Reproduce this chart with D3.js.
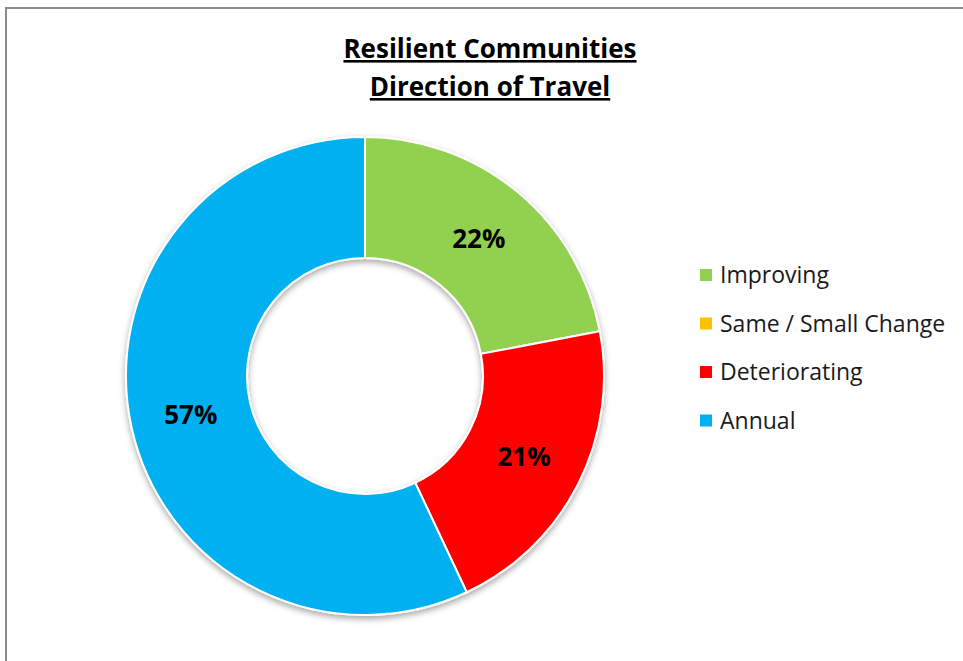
<!DOCTYPE html>
<html lang="en">
<head>
    <meta charset="UTF-8">
    <title>Resilient Communities Direction of Travel</title>
    <script src="https://d3js.org/d3.v7.min.js"></script>
    <style>
        body {
            margin: 0;
            padding: 0;
            background-color: #ffffff;
            font-family: "Open Sans", "Noto Sans", sans-serif;
        }

        .title {
            font-size: 26px;
            font-weight: bold;
            text-anchor: middle;
            text-decoration: underline;
        }

        .slice-label {
            font-size: 26px;
            font-weight: bold;
            text-anchor: middle;
        }

        .legend-text {
            font-size: 23px;
            fill: #1a1a1a;
        }
    </style>
</head>
<body>
    <div id="chart"></div>
    <script>
        // Chart data
        const categories = ["Improving", "Same / Small Change", "Deteriorating", "Annual"];
        const values = [22, 0, 21, 57];
        const colors = ["#92D050", "#FFC000", "#FF0000", "#00B0F0"];
        const titleLines = ["Resilient Communities", "Direction of Travel"];

        const width = 963;
        const height = 661;
        const cx = 365, cy = 376;
        const outerR = 239, innerR = 118;

        const svg = d3.select("#chart")
            .append("svg")
            .attr("width", width)
            .attr("height", height);

        // Frame
        svg.append("rect")
            .attr("x", 6)
            .attr("y", 8)
            .attr("width", width + 10)
            .attr("height", height + 10)
            .attr("fill", "none")
            .attr("stroke", "#8c8c8c")
            .attr("stroke-width", 2);

        // Shadow filter
        const defs = svg.append("defs");
        const filter = defs.append("filter").attr("id", "shadow")
            .attr("x", "-20%").attr("y", "-20%").attr("width", "140%").attr("height", "140%");
        filter.append("feDropShadow")
            .attr("dx", 0).attr("dy", 3).attr("stdDeviation", 3)
            .attr("flood-color", "#000").attr("flood-opacity", 0.35);

        // Title
        svg.selectAll("text.title")
            .data(titleLines)
            .enter()
            .append("text")
            .attr("class", "title")
            .attr("x", 490)
            .attr("y", (d, i) => 58 + i * 38)
            .text(d => d);

        const data = categories.map((c, i) => ({ name: c, value: values[i], color: colors[i] }));

        const pie = d3.pie().value(d => d.value).sort(null);
        const arc = d3.arc().innerRadius(innerR).outerRadius(outerR);

        const g = svg.append("g").attr("transform", `translate(${cx},${cy})`);

        g.append("g")
            .attr("filter", "url(#shadow)")
            .selectAll("path")
            .data(pie(data).filter(d => d.data.value > 0))
            .enter()
            .append("path")
            .attr("d", arc)
            .attr("fill", d => d.data.color)
            .attr("stroke", "#ffffff")
            .attr("stroke-width", 2);

        g.selectAll("text.slice-label")
            .data(pie(data).filter(d => d.data.value > 0))
            .enter()
            .append("text")
            .attr("class", "slice-label")
            .attr("transform", d => `translate(${arc.centroid(d)})`)
            .attr("dy", "0.35em")
            .text(d => d.data.value + "%");

        // Legend
        const legend = svg.append("g").attr("transform", "translate(700,275)");
        const rows = legend.selectAll("g")
            .data(data)
            .enter()
            .append("g")
            .attr("transform", (d, i) => `translate(0,${i * 48.5})`);

        rows.append("rect")
            .attr("x", 0)
            .attr("y", -6)
            .attr("width", 12)
            .attr("height", 12)
            .attr("fill", d => d.color);

        rows.append("text")
            .attr("class", "legend-text")
            .attr("x", 20)
            .attr("dy", "0.35em")
            .text(d => d.name);
    </script>
</body>
</html>
